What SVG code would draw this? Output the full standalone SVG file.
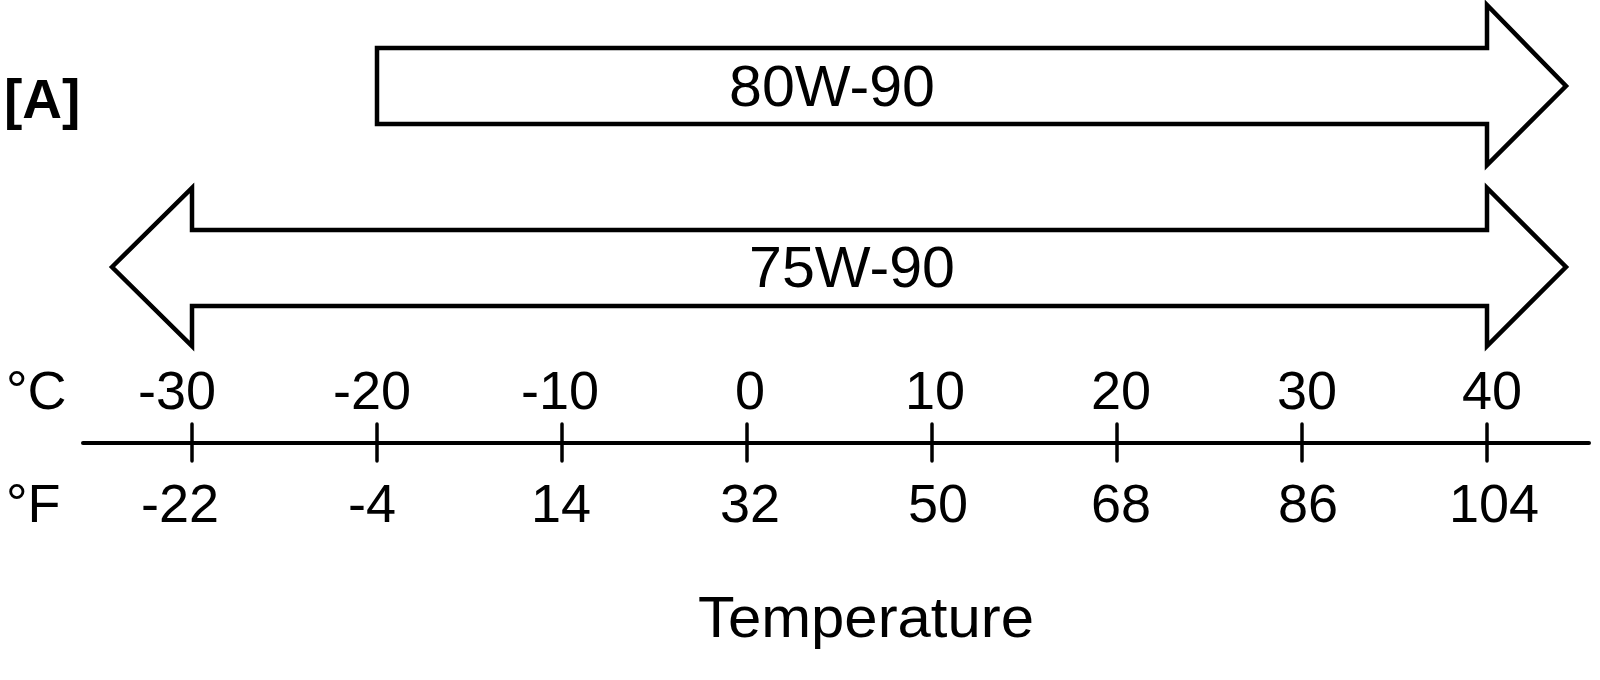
<svg xmlns="http://www.w3.org/2000/svg" width="1600" height="680" viewBox="0 0 1600 680">
<style>
.t{font-family:"Liberation Sans",Arial,sans-serif;fill:#000}
.n{font-size:54px;text-anchor:middle}
.lbl{font-size:57px;text-anchor:middle}
.arr{fill:#fff;stroke:#000;stroke-width:4.5;stroke-linejoin:miter}
.ax{stroke:#000;stroke-width:4;fill:none;stroke-linecap:round}
.tk{stroke:#000;stroke-width:3.5;fill:none;stroke-linecap:round}
</style>
<rect width="1600" height="680" fill="#fff"/>
<g id="label-A"><text class="t" x="4" y="118" font-size="55" font-weight="bold">[A]</text></g>
<g id="node-80w90">
<polygon class="arr" points="377,48 1487,48 1487,5 1566,86 1487,165 1487,124 377,124"/>
<text class="t lbl" x="832" y="106" textLength="206" lengthAdjust="spacingAndGlyphs">80W-90</text>
</g>
<g id="node-75w90">
<polygon class="arr" points="112,267 192,188 192,230 1487,230 1487,188 1566,267 1487,346 1487,306 192,306 192,346"/>
<text class="t lbl" x="852" y="287" textLength="206" lengthAdjust="spacingAndGlyphs">75W-90</text>
</g>
<g id="axis">
<line class="ax" x1="83" y1="443" x2="1589" y2="443"/>
<g class="tk-group">
<line class="tk" x1="192" y1="424" x2="192" y2="461"/>
<line class="tk" x1="377" y1="424" x2="377" y2="461"/>
<line class="tk" x1="562" y1="424" x2="562" y2="461"/>
<line class="tk" x1="747" y1="424" x2="747" y2="461"/>
<line class="tk" x1="932" y1="424" x2="932" y2="461"/>
<line class="tk" x1="1117" y1="424" x2="1117" y2="461"/>
<line class="tk" x1="1302" y1="424" x2="1302" y2="461"/>
<line class="tk" x1="1487" y1="424" x2="1487" y2="461"/>
</g>
</g>
<g id="celsius">
<text class="t" x="6" y="409" font-size="54">°C</text>
<text class="t n" x="177" y="409">-30</text>
<text class="t n" x="372" y="409">-20</text>
<text class="t n" x="560" y="409">-10</text>
<text class="t n" x="750" y="409">0</text>
<text class="t n" x="935" y="409">10</text>
<text class="t n" x="1121" y="409">20</text>
<text class="t n" x="1307" y="409">30</text>
<text class="t n" x="1492" y="409">40</text>
</g>
<g id="fahrenheit">
<text class="t" x="6" y="522" font-size="54">°F</text>
<text class="t n" x="180" y="522">-22</text>
<text class="t n" x="372" y="522">-4</text>
<text class="t n" x="561" y="522">14</text>
<text class="t n" x="750" y="522">32</text>
<text class="t n" x="938" y="522">50</text>
<text class="t n" x="1121" y="522">68</text>
<text class="t n" x="1308" y="522">86</text>
<text class="t n" x="1494" y="522">104</text>
</g>
<g id="title"><text class="t lbl" x="866" y="637" textLength="336" lengthAdjust="spacingAndGlyphs">Temperature</text></g>
</svg>
